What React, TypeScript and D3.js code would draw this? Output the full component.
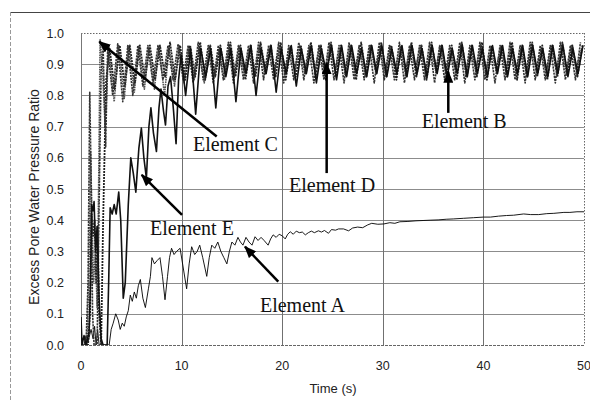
import React, {useEffect, useRef} from 'react'
import * as d3 from 'd3'

type Pt = [number, number]

const timeTicks = [0, 10, 20, 30, 40, 50]
const ratioTicks = [0, 0.1, 0.2, 0.3, 0.4, 0.5, 0.6, 0.7, 0.8, 0.9, 1.0]

// after ~10 s the records every half second
const sampleStep = 0.5

// Element A: slow build-up, thin solid line
const elementA: Pt[] = [
  [0, 0], [0.3, 0], [0.5, 0.03], [0.7, 0.01], [1.0, 0.05], [1.2, 0.02], [1.35, 0.06], [1.5, 0], [1.65, 0.05], [1.8, 0],
  [2.8, 0], [3.0, 0.05], [3.2, 0.07], [3.45, 0.1], [3.7, 0.08], [3.9, 0.05], [4.1, 0.07], [4.3, 0.06], [4.5, 0.09], [4.7, 0.11],
  [4.9, 0.16], [5.1, 0.14], [5.3, 0.17], [5.5, 0.15], [5.7, 0.19], [5.9, 0.21], [6.15, 0.15], [6.4, 0.12], [6.7, 0.18], [6.9, 0.22],
  [7.05, 0.28], [7.3, 0.26], [7.55, 0.27], [7.85, 0.28], [8.1, 0.22], [8.35, 0.145], [8.6, 0.22], [8.8, 0.28], [9.0, 0.31], [9.25, 0.29],
  [9.5, 0.3], [9.85, 0.31], [10.15, 0.25], [10.5, 0.18], [10.75, 0.26], [11.0, 0.315], [11.3, 0.29], [11.55, 0.3], [11.8, 0.32], [12.1, 0.28],
  [12.5, 0.22], [12.75, 0.28], [13.0, 0.32], [13.3, 0.31], [13.6, 0.33], [13.9, 0.3], [14.2, 0.28], [14.5, 0.26], [14.75, 0.3], [15.0, 0.33],
  [15.3, 0.32], [15.6, 0.345], [15.85, 0.33], [16.1, 0.32], [16.4, 0.345], [16.7, 0.33], [17.0, 0.32], [17.3, 0.347], [17.6, 0.335], [17.9, 0.345],
  [18.2, 0.335], [18.6, 0.32], [18.85, 0.34], [19.1, 0.353], [19.4, 0.345], [19.7, 0.355], [20.0, 0.35], [20.3, 0.34], [20.55, 0.355], [20.8, 0.363],
  [21.1, 0.355], [21.4, 0.365], [21.7, 0.36], [22.0, 0.362], [22.3, 0.353], [22.6, 0.36], [22.9, 0.365], [23.2, 0.36], [23.6, 0.366], [23.9, 0.362],
  [24.2, 0.367], [24.6, 0.358], [24.9, 0.37], [25.3, 0.368], [25.6, 0.372], [26.1, 0.372], [26.6, 0.366], [27.0, 0.375], [27.5, 0.378], [28.0, 0.376],
  [28.5, 0.385], [28.9, 0.39], [29.5, 0.387], [30.1, 0.388], [30.7, 0.392], [31.2, 0.39], [31.7, 0.395], [32.5, 0.396], [33.3, 0.398], [34.0, 0.399],
  [34.7, 0.4], [35.5, 0.401], [36.3, 0.403], [37.0, 0.404], [38.0, 0.406], [39.0, 0.408], [40.0, 0.41], [40.7, 0.41], [41.5, 0.413], [42.3, 0.415],
  [43.0, 0.416], [44.0, 0.42], [44.7, 0.418], [45.5, 0.418], [46.3, 0.421], [47.0, 0.422], [48.0, 0.425], [48.6, 0.425], [49.3, 0.427], [50, 0.427],
]

// Element B
const elementBEarly: Pt[] = [
  [0, 0], [0.7, 0], [0.9, 0.1], [1.05, 0.42], [1.2, 0.35], [1.35, 0.4], [1.5, 0.2], [1.65, 0.38], [1.8, 0.1], [2.0, 0],
  [2.2, 0.4], [2.5, 0.85], [2.85, 0.95], [3.35, 0.82], [3.85, 0.96], [4.35, 0.83], [4.85, 0.96], [5.35, 0.84], [5.85, 0.96], [6.35, 0.85],
  [6.85, 0.96], [7.35, 0.85], [7.85, 0.96], [8.35, 0.86], [8.85, 0.97], [9.35, 0.85], [9.85, 0.96],
]
const elementBLateStart = 10.35
const elementBLate = [
  0.85, 0.96, 0.86, 0.97, 0.85, 0.96, 0.86, 0.96, 0.87, 0.97,
  0.86, 0.96, 0.85, 0.96, 0.86, 0.97, 0.87, 0.96, 0.86, 0.97,
  0.85, 0.96, 0.86, 0.96, 0.87, 0.97, 0.86, 0.96, 0.85, 0.97,
  0.86, 0.96, 0.86, 0.96, 0.85, 0.97, 0.86, 0.96, 0.87, 0.97,
  0.86, 0.96, 0.85, 0.96, 0.86, 0.97, 0.86, 0.96, 0.85, 0.97,
  0.87, 0.96, 0.86, 0.96, 0.85, 0.97, 0.86, 0.96, 0.86, 0.97,
  0.85, 0.96, 0.87, 0.96, 0.86, 0.97, 0.85, 0.96, 0.86, 0.97,
  0.86, 0.96, 0.85, 0.96, 0.86, 0.97, 0.87, 0.96, 0.86, 0.96,
]

// Element C
const elementCEarly: Pt[] = [
  [0, 0], [0.6, 0], [0.8, 0.25], [0.95, 0.62], [1.1, 0.4], [1.25, 0.2], [1.45, 0.3], [1.6, 0.12], [1.75, 0.5], [1.9, 0.98],
  [2.15, 0.88], [2.4, 0.7], [2.55, 0.8], [2.75, 0.96], [3.3, 0.78], [3.75, 0.96], [4.3, 0.79], [4.75, 0.96], [5.3, 0.81], [5.75, 0.96],
  [6.3, 0.82], [6.75, 0.955], [7.3, 0.82], [7.75, 0.96], [8.3, 0.8], [8.75, 0.955], [9.3, 0.83], [9.75, 0.96],
]
const elementCLateStart = 10.25
const elementCLate = [
  0.84, 0.96, 0.85, 0.95, 0.84, 0.96, 0.86, 0.95, 0.85, 0.96,
  0.86, 0.96, 0.87, 0.95, 0.86, 0.96, 0.87, 0.95, 0.88, 0.96,
  0.87, 0.95, 0.88, 0.96, 0.87, 0.95, 0.88, 0.96, 0.87, 0.96,
  0.88, 0.95, 0.87, 0.96, 0.88, 0.95, 0.87, 0.96, 0.88, 0.95,
  0.87, 0.96, 0.88, 0.95, 0.87, 0.96, 0.88, 0.96, 0.87, 0.95,
  0.88, 0.96, 0.87, 0.95, 0.88, 0.96, 0.87, 0.95, 0.88, 0.96,
  0.87, 0.95, 0.88, 0.96, 0.87, 0.96, 0.88, 0.95, 0.87, 0.96,
  0.88, 0.95, 0.87, 0.96, 0.88, 0.95, 0.87, 0.96, 0.88, 0.95,
]

// Element D
const elementDEarly: Pt[] = [
  [0, 0], [0.5, 0], [0.7, 0.2], [0.87, 0.81], [1.0, 0.55], [1.15, 0.1], [1.3, 0], [1.6, 0], [1.8, 0.45], [2.0, 0.88],
  [2.2, 0.95], [2.45, 0.635], [2.65, 0.95], [3.15, 0.8], [3.65, 0.965], [4.15, 0.78], [4.65, 0.96], [5.15, 0.8], [5.65, 0.96], [6.15, 0.83],
  [6.65, 0.96], [7.15, 0.84], [7.65, 0.96], [8.15, 0.85], [8.65, 0.96], [9.15, 0.85], [9.65, 0.965],
]
const elementDLateStart = 10.15
const elementDLate = [
  0.85, 0.96, 0.84, 0.97, 0.85, 0.96, 0.84, 0.96, 0.85, 0.97,
  0.84, 0.96, 0.85, 0.96, 0.84, 0.97, 0.85, 0.96, 0.85, 0.97,
  0.84, 0.96, 0.85, 0.97, 0.85, 0.96, 0.84, 0.96, 0.85, 0.97,
  0.85, 0.96, 0.84, 0.97, 0.85, 0.96, 0.85, 0.96, 0.84, 0.97,
  0.85, 0.96, 0.85, 0.97, 0.84, 0.96, 0.85, 0.96, 0.85, 0.97,
  0.84, 0.96, 0.85, 0.96, 0.85, 0.97, 0.84, 0.96, 0.85, 0.97,
  0.85, 0.96, 0.84, 0.96, 0.85, 0.97, 0.85, 0.96, 0.84, 0.97,
  0.85, 0.96, 0.85, 0.96, 0.84, 0.97, 0.85, 0.96, 0.85, 0.97,
]

// Element E: climbs with big swings, then joins the top band
const elementEEarly: Pt[] = [
  [0, 0.09], [0.1, 0], [0.3, 0.03], [0.5, 0], [0.8, 0.04], [0.95, 0.2], [1.05, 0.45], [1.2, 0.43], [1.3, 0.46], [1.45, 0.3],
  [1.6, 0.38], [1.8, 0.15], [2.0, 0.02], [2.2, 0], [2.6, 0], [2.75, 0.2], [2.9, 0.44], [3.1, 0.42], [3.3, 0.45], [3.5, 0.42],
  [3.75, 0.49], [3.95, 0.4], [4.2, 0.15], [4.4, 0.2], [4.7, 0.45], [4.95, 0.6], [5.2, 0.55], [5.45, 0.49], [5.75, 0.63], [6.0, 0.695],
  [6.25, 0.6], [6.5, 0.535], [6.75, 0.7], [6.95, 0.76], [7.2, 0.68], [7.5, 0.62], [7.75, 0.76], [7.95, 0.82], [8.2, 0.75], [8.4, 0.705],
  [8.65, 0.83], [8.9, 0.86], [9.2, 0.75], [9.45, 0.645], [9.7, 0.85], [9.95, 0.93],
]
const elementELateStart = 10.4
const elementELate = [
  0.80, 0.95, 0.74, 0.95, 0.86, 0.95, 0.76, 0.95, 0.86, 0.95,
  0.78, 0.95, 0.87, 0.96, 0.80, 0.95, 0.87, 0.96, 0.81, 0.95,
  0.87, 0.96, 0.83, 0.95, 0.87, 0.96, 0.84, 0.95, 0.87, 0.96,
  0.85, 0.96, 0.86, 0.96, 0.87, 0.95, 0.86, 0.96, 0.87, 0.96,
  0.86, 0.95, 0.87, 0.96, 0.86, 0.96, 0.87, 0.95, 0.86, 0.96,
  0.87, 0.96, 0.86, 0.95, 0.87, 0.96, 0.86, 0.96, 0.87, 0.95,
  0.86, 0.96, 0.87, 0.96, 0.86, 0.95, 0.87, 0.96, 0.86, 0.96,
  0.87, 0.95, 0.86, 0.96, 0.87, 0.96, 0.86, 0.95, 0.87, 0.96,
]

// labels and arrows, in (time, ratio)
const notes = [
  {label: 'Element C', at: [11.13, 0.623], from: [13.49, 0.668], to: [1.82, 0.972]},
  {label: 'Element B', at: [33.87, 0.695], from: [36.51, 0.744], to: [36.51, 0.876]},
  {label: 'Element D', at: [20.68, 0.491], from: [24.42, 0.551], to: [24.42, 0.903]},
  {label: 'Element E', at: [6.86, 0.353], from: [10.04, 0.417], to: [6.03, 0.545]},
  {label: 'Element A', at: [17.79, 0.107], from: [19.61, 0.203], to: [16.3, 0.315]},
]

const joinLate = (early: Pt[], start: number, vals: number[]): Pt[] =>
  early.concat(vals.map((v, i) => [start + i * sampleStep, v] as Pt))

const W = 590, H = 401
const margin = {top: 33, right: 6, bottom: 56, left: 81}

function Chart() {
  const ref = useRef<SVGSVGElement>(null)

  useEffect(() => {
    const svg = d3.select(ref.current)
    svg.selectAll('*').remove()

    const x = d3.scaleLinear().domain([0, 50]).range([margin.left, W - margin.right])
    const y = d3.scaleLinear().domain([0, 1]).range([H - margin.bottom, margin.top])
    const sans = '"Liberation Sans", Arial, sans-serif'
    const serif = '"Liberation Serif", "Times New Roman", serif'

    // scanned page frame
    svg.append('line').attr('x1', 10).attr('x2', W).attr('y1', 12.5).attr('y2', 12.5)
      .attr('stroke', '#444').attr('stroke-width', 1)
    svg.append('line').attr('x1', 10.5).attr('x2', 10.5).attr('y1', 12).attr('y2', H)
      .attr('stroke', '#999').attr('stroke-width', 1).attr('stroke-dasharray', '4 2')

    const defs = svg.append('defs')
    defs.append('clipPath').attr('id', 'plotclip').append('rect')
      .attr('x', x(0)).attr('y', y(1) - 2).attr('width', x(50) - x(0)).attr('height', y(0) - y(1) + 2)
    defs.append('marker').attr('id', 'head').attr('markerUnits', 'userSpaceOnUse')
      .attr('viewBox', '0 0 12 10').attr('refX', 11).attr('refY', 5)
      .attr('markerWidth', 12).attr('markerHeight', 10).attr('orient', 'auto')
      .append('path').attr('d', 'M0,0L12,5L0,10Z').attr('fill', '#000')

    const g = svg.append('g')

    // grid
    g.selectAll('.hgrid').data(ratioTicks.filter(d => d > 0 && d < 1)).join('line').attr('class', 'hgrid')
      .attr('x1', x(0)).attr('x2', x(50)).attr('y1', d => Math.round(y(d)) + 0.5).attr('y2', d => Math.round(y(d)) + 0.5)
      .attr('stroke', '#8c8c8c').attr('stroke-width', 1)
    g.selectAll('.vgrid').data(timeTicks.filter(d => d > 0 && d < 50)).join('line').attr('class', 'vgrid')
      .attr('x1', d => Math.round(x(d)) + 0.5).attr('x2', d => Math.round(x(d)) + 0.5).attr('y1', y(1)).attr('y2', y(0))
      .attr('stroke', '#707070').attr('stroke-width', 1)
    // border of the plot
    g.append('line').attr('x1', x(0)).attr('x2', x(50)).attr('y1', Math.round(y(1)) + 0.5).attr('y2', Math.round(y(1)) + 0.5)
      .attr('stroke', '#666').attr('stroke-dasharray', '1.5 1.5')
    g.append('line').attr('x1', Math.round(x(50)) + 0.5).attr('x2', Math.round(x(50)) + 0.5).attr('y1', y(1)).attr('y2', y(0))
      .attr('stroke', '#666').attr('stroke-dasharray', '1.5 1.5')
    g.append('line').attr('x1', x(0)).attr('x2', x(50)).attr('y1', Math.round(y(0)) + 0.5).attr('y2', Math.round(y(0)) + 0.5)
      .attr('stroke', '#666').attr('stroke-dasharray', '3 1')
    g.append('line').attr('x1', Math.round(x(0)) + 0.5).attr('x2', Math.round(x(0)) + 0.5).attr('y1', y(1)).attr('y2', y(0))
      .attr('stroke', '#777')

    // tick labels
    g.selectAll('.ylab').data(ratioTicks).join('text').attr('class', 'ylab')
      .attr('x', 64).attr('y', d => y(d)).attr('dy', '0.36em').attr('text-anchor', 'end')
      .attr('font-family', sans).attr('font-size', 12.5).attr('fill', '#222').text(d => d.toFixed(1))
    g.selectAll('.xlab').data(timeTicks).join('text').attr('class', 'xlab')
      .attr('x', d => x(d)).attr('y', 370).attr('text-anchor', 'middle')
      .attr('font-family', sans).attr('font-size', 12.5).attr('fill', '#222').text(d => d)

    g.append('text').attr('x', 333).attr('y', 393).attr('text-anchor', 'middle')
      .attr('font-family', sans).attr('font-size', 13).attr('fill', '#222').text('Time (s)')
    g.append('text').attr('transform', `translate(38.5,${(y(0) + y(1)) / 2 + 8}) rotate(-90)`).attr('text-anchor', 'middle')
      .attr('font-family', sans).attr('font-size', 14).attr('fill', '#222').text('Excess Pore Water Pressure Ratio')

    // records
    const series = [
      {data: elementA, stroke: '#000', width: 0.9, dash: null},
      {data: joinLate(elementCEarly, elementCLateStart, elementCLate), stroke: '#555', width: 1.6, dash: '1.6 0.8'},
      {data: joinLate(elementBEarly, elementBLateStart, elementBLate), stroke: '#222', width: 1.8, dash: '2 1'},
      {data: joinLate(elementDEarly, elementDLateStart, elementDLate), stroke: '#333', width: 1.6, dash: '2.2 0.9'},
      {data: joinLate(elementEEarly, elementELateStart, elementELate), stroke: '#111', width: 1.6, dash: null},
    ]
    const line = d3.line<Pt>().x(d => x(d[0])).y(d => y(d[1]))
    g.append('g').attr('clip-path', 'url(#plotclip)')
      .selectAll('path').data(series).join('path')
      .attr('d', d => line(d.data))
      .attr('fill', 'none').attr('stroke', d => d.stroke).attr('stroke-width', d => d.width)
      .attr('stroke-dasharray', d => d.dash).attr('stroke-linejoin', 'round')

    // annotations
    g.selectAll('.note').data(notes).join('text').attr('class', 'note')
      .attr('x', d => x(d.at[0])).attr('y', d => y(d.at[1]))
      .attr('font-family', serif).attr('font-size', 20).attr('fill', '#111').text(d => d.label)
    g.selectAll('.arrow').data(notes).join('line').attr('class', 'arrow')
      .attr('x1', d => x(d.from[0])).attr('y1', d => y(d.from[1]))
      .attr('x2', d => x(d.to[0])).attr('y2', d => y(d.to[1]))
      .attr('stroke', '#000').attr('stroke-width', 2.5).attr('marker-end', 'url(#head)')
  }, [])

  return <svg ref={ref} width={W} height={H} style={{display: 'block', background: '#fff'}}></svg>
}

export default function App() {
  return (
    <div>
      <style>{'body{margin:0;background:#fff}'}</style>
      <Chart />
    </div>
  )
}
